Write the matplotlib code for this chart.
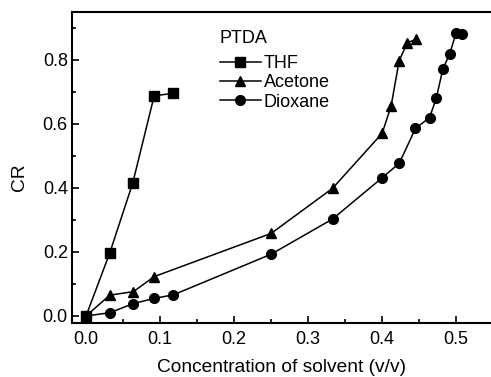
import matplotlib
matplotlib.use("Agg")
import matplotlib.pyplot as plt
from matplotlib.ticker import MultipleLocator

plt.rcParams['font.family'] = ['Liberation Sans', 'DejaVu Sans']

thf_x = [0.0, 0.032, 0.063, 0.092, 0.118]
thf_y = [0.0, 0.197, 0.415, 0.688, 0.696]

acetone_x = [0.0, 0.032, 0.064, 0.092, 0.25, 0.333, 0.40, 0.412, 0.423, 0.434, 0.446]
acetone_y = [0.0, 0.065, 0.076, 0.123, 0.258, 0.399, 0.571, 0.656, 0.798, 0.854, 0.865]

dioxane_x = [0.0, 0.032, 0.063, 0.092, 0.118, 0.25, 0.333, 0.40, 0.423, 0.445, 0.464, 0.473, 0.482, 0.491, 0.50, 0.508]
dioxane_y = [0.0, 0.010, 0.038, 0.055, 0.066, 0.193, 0.303, 0.432, 0.477, 0.586, 0.620, 0.680, 0.772, 0.818, 0.885, 0.880]

xticks = [0.0, 0.1, 0.2, 0.3, 0.4, 0.5]
yticks = [0.0, 0.2, 0.4, 0.6, 0.8]

FS = 13

fig = plt.figure(figsize=(4.91, 3.77), dpi=100)
ax = fig.add_axes([72/491, 1 - 323/377, 1 - 72/491, (323 - 12)/377])

kw = dict(color='black', lw=1.1, markersize=7)
ax.plot(thf_x, thf_y, marker='s', label='THF', **kw)
ax.plot(acetone_x, acetone_y, marker='^', label='Acetone', **kw)
ax.plot(dioxane_x, dioxane_y, marker='o', label='Dioxane', **kw)

ax.set_xlim(-0.019, 0.547)
ax.set_ylim(-0.022, 0.95)
ax.set_xticks(xticks)
ax.set_yticks(yticks)
ax.xaxis.set_minor_locator(MultipleLocator(0.05))
ax.yaxis.set_minor_locator(MultipleLocator(0.1))
ax.tick_params(which='both', direction='in', labelsize=FS, width=1.2, top=False, right=False)
ax.tick_params(which='major', length=5)
ax.tick_params(which='minor', length=3)
ax.tick_params(axis='x', pad=6)
ax.tick_params(axis='y', pad=3)
ax.spines['right'].set_visible(False)
for s in ['left', 'bottom', 'top']:
    ax.spines[s].set_linewidth(1.5)

ax.set_xlabel('Concentration of solvent (v/v)', fontsize=13.8, labelpad=8)
ax.set_ylabel('CR', fontsize=13.8)
ax.yaxis.set_label_coords(-0.105, 0.47)

leg = ax.legend(title='PTDA', loc='upper left', bbox_to_anchor=(0.322, 0.983),
                frameon=False, fontsize=FS, title_fontsize=FS,
                handlelength=2.3, handletextpad=0.15, labelspacing=0.12,
                borderpad=0.2)
leg._legend_box.align = 'left'
leg._legend_box.sep = 6

fig.savefig('out.png', dpi=100)
